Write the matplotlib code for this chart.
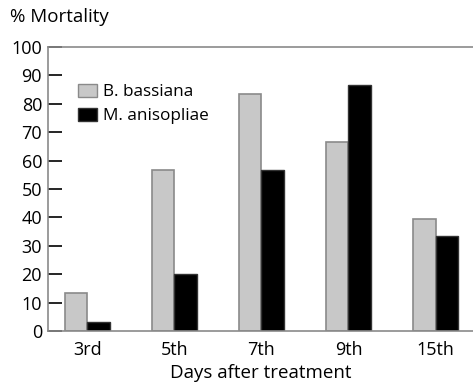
import numpy as np
import matplotlib
matplotlib.use("Agg")
import matplotlib.pyplot as plt
from matplotlib.patches import Patch

plt.rcParams['font.family'] = ['Open Sans', 'DejaVu Sans']

days = ['3rd', '5th', '7th', '9th', '15th']
b_bassiana = [13.3, 56.7, 83.3, 66.7, 39.5]
m_anisopliae = [3.0, 20.0, 56.7, 86.7, 33.3]

fig = plt.figure(figsize=(4.73, 3.87), dpi=100)
ax = fig.add_axes([47.6/473, 1-331/387, 1-47.6/473, (331-47)/387])

x = np.arange(len(days))
w = 0.26
ax.bar(x - w/2, b_bassiana, w, color='#c8c8c8', edgecolor='#8a8a8a', linewidth=1.2, label='B. bassiana')
ax.bar(x + w/2, m_anisopliae, w, color='black', edgecolor='#333333', linewidth=1.0, label='M. anisopliae')

ax.set_xlim(-0.455, 4.43)
ax.set_ylim(0, 100)
ax.set_yticks(range(0, 101, 10))
ax.set_xticks(x)
ax.set_xticklabels(days)
ax.tick_params(axis='y', direction='in', length=10, width=1.2, color='black', labelsize=13, pad=4)
ax.tick_params(axis='x', length=0, labelsize=13, pad=7)
for s in ['top', 'left', 'bottom']:
    ax.spines[s].set_color('#8a8a8a')
    ax.spines[s].set_linewidth(1.2)
ax.spines['right'].set_visible(False)

ax.set_xlabel('Days after treatment', fontsize=13.5, labelpad=4)
fig.text(10/473, 1-17/387, '% Mortality', fontsize=13.5, va='center', ha='left')

handles = [Patch(facecolor='#c8c8c8', edgecolor='#8a8a8a', label='B. bassiana'),
           Patch(facecolor='black', edgecolor='#333333', label='M. anisopliae')]
ax.legend(handles=handles, loc='upper left', bbox_to_anchor=(0.055, 0.895), frameon=False,
          fontsize=12.3, handlelength=1.1, handleheight=0.8, handletextpad=0.4, labelspacing=0.45,
          borderaxespad=0)

fig.savefig('out.png', dpi=100)
